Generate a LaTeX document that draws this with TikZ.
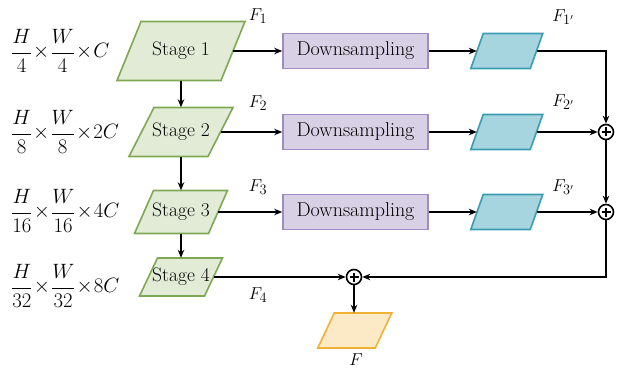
\documentclass[tikz,border=0pt]{standalone}
\usepackage{fontspec}
\usetikzlibrary{arrows.meta}

\definecolor{stagefill}{HTML}{E2EBD6}
\definecolor{stageline}{HTML}{7FA855}
\definecolor{downfill}{HTML}{D8D0E5}
\definecolor{downline}{HTML}{9E8DBE}
\definecolor{featfill}{HTML}{A6D4DF}
\definecolor{featline}{HTML}{3B9DB2}
\definecolor{outfill}{HTML}{FCE9C6}
\definecolor{outline}{HTML}{F0B235}

% parallelogram: name, cx, cy, half width, half height, half skew, style, text
\newcommand\pgram[8]{%
  \draw[#7] ({#2-#4-#6},{#3+#5}) -- ({#2+#4-#6},{#3+#5}) --
            ({#2+#4+#6},{#3-#5}) -- ({#2-#4+#6},{#3-#5}) -- cycle;
  \node[minimum width={2*#4}, minimum height={2*#5}, inner sep=0pt,
        font=\fontsize{19.5}{21}\selectfont] (#1) at (#2,#3) {#8};
}
\newcommand\tms{\mkern1mu{\times}\mkern1mu}
\newcommand\dimlabel[3]{%
  $\displaystyle\frac{H}{#1}\tms\frac{W}{#2}\tms #3$}

\tikzset{
  stagebox/.style={draw=stageline, fill=stagefill, line width=1.6pt, line join=miter},
  featbox/.style={draw=featline, fill=featfill, line width=1.6pt},
  outbox/.style={draw=outline, fill=outfill, line width=1.6pt},
  downbox/.style={draw=downline, fill=downfill, line width=1.6pt,
    minimum width=145, minimum height=35, inner sep=0pt,
    font=\fontsize{20}{22}\selectfont},
  arr/.style={line width=1.8pt, -{Stealth[length=8pt,width=6.5pt]}},
  plus/.style={circle, draw, line width=1.6pt, minimum size=15, inner sep=0pt,
    path picture={\draw[line width=1.3pt]
      ([xshift=-4.5pt]path picture bounding box.center) -- ([xshift=4.5pt]path picture bounding box.center)
      ([yshift=-4.5pt]path picture bounding box.center) -- ([yshift=4.5pt]path picture bounding box.center);}},
  flab/.style={font=\fontsize{19}{21}\selectfont, inner sep=0pt},
  dimlab/.style={font=\fontsize{20}{22}\selectfont, inner sep=0pt, anchor=west}
}

\begin{document}
\begin{tikzpicture}[x=1pt, y=-1pt]
\useasboundingbox (0,0) rectangle (617,371);

% backbone stages
\pgram{s1}{181}{51}{52}{29.5}{12}{stagebox}{Stage 1}
\pgram{s2}{181}{132}{39.5}{24.5}{12.5}{stagebox}{Stage 2}
\pgram{s3}{181}{212}{37}{21.5}{9.5}{stagebox}{Stage 3}
\pgram{s4}{181}{277}{32.5}{19}{9}{stagebox}{Stage 4}

% downsampling blocks
\node[downbox] (d1) at (355.5,51) {Downsampling};
\node[downbox] (d2) at (355.5,132) {Downsampling};
\node[downbox] (d3) at (355.5,212) {Downsampling};

% downsampled features
\pgram{c1}{506.75}{51}{29.75}{17.5}{6.25}{featbox}{}
\pgram{c2}{506.75}{132}{29.75}{17.5}{6.25}{featbox}{}
\pgram{c3}{506.75}{212}{29.75}{17.5}{6.25}{featbox}{}

% fused output
\pgram{fo}{354.75}{330.5}{28.75}{17.5}{8.25}{outbox}{}

% element-wise sums
\node[plus] (p2) at (606,132) {};
\node[plus] (p3) at (606,212) {};
\node[plus] (p4) at (354,277) {};

% resolution labels
\node[dimlab, font=\fontsize{21}{23}\selectfont] (r1) at (11,51) {\dimlabel{4}{4}{C}};
\node[dimlab] (r2) at (11,132) {\dimlabel{8}{8}{2C}};
\node[dimlab] (r3) at (11,211) {\dimlabel{16}{16}{4C}};
\node[dimlab] (r4) at (11,286) {\dimlabel{32}{32}{8C}};

% feature labels
\node[flab] (f1) at (258,16) {$F_1$};
\node[flab] (f2) at (258,103) {$F_2$};
\node[flab] (f3) at (258,187) {$F_3$};
\node[flab] (f4) at (258,295) {$F_4$};
\node[flab] (g1) at (563,17) {$F_{1'}$};
\node[flab] (g2) at (563,102) {$F_{2'}$};
\node[flab] (g3) at (563,187) {$F_{3'}$};
\node[flab] (fl) at (356,360) {$F$};

% backbone flow
\draw[arr] (s1.south) -- (s2.north);
\draw[arr] (s2.south) -- (s3.north);
\draw[arr] (s3.south) -- (s4.north);

% feature branches
\draw[arr] (s1.east) -- (d1.west);
\draw[arr] (s2.east) -- (d2.west);
\draw[arr] (s3.east) -- (d3.west);
\draw[arr] (d1.east) -- (c1.west);
\draw[arr] (d2.east) -- (c2.west);
\draw[arr] (d3.east) -- (c3.west);

% fusion
\draw[arr] (c1.east) -| (p2.north);
\draw[arr] (c2.east) -- (p2.west);
\draw[arr] (p2.south) -- (p3.north);
\draw[arr] (c3.east) -- (p3.west);
\draw[arr] (p3.south) |- (p4.east);
\draw[arr] (s4.east) -- (p4.west);
\draw[arr] (p4.south) -- (p4.south |- fo.north);
\end{tikzpicture}
\end{document}
